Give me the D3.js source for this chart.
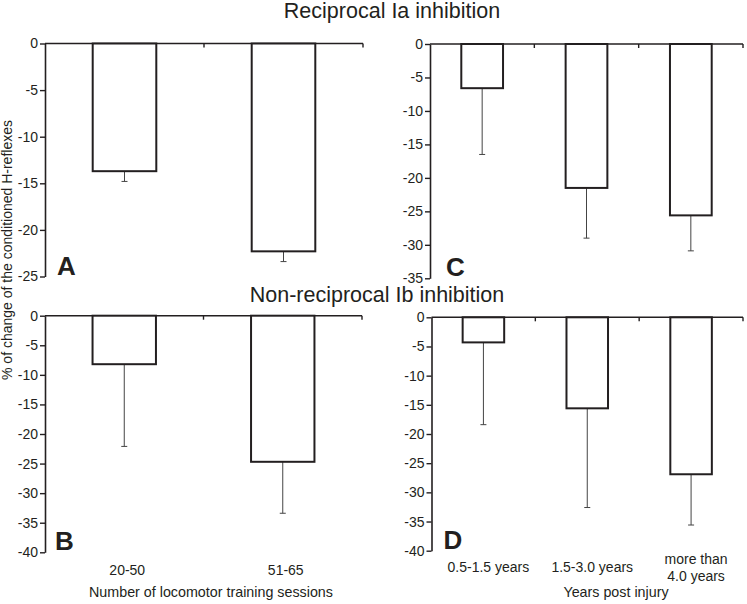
<!DOCTYPE html>
<html><head><meta charset="utf-8">
<script src="https://cdn.jsdelivr.net/npm/d3@7"></script>
<style>body{margin:0;background:#fff}svg{display:block}text{font-family:"Liberation Sans",Arial,sans-serif;fill:#231f20}</style>
</head><body>
<svg id="c" width="747" height="604"></svg>
<script>
// ---- data ----
const sessionCats = ["20-50", "51-65"];
const yearCats = ["0.5-1.5 years", "1.5-3.0 years", "more than|4.0 years"];
const recipSessions = [-13.7, -22.3];
const recipSessionsErr = [1.1, 1.1];
const recipYears = [-6.6, -21.5, -25.6];
const recipYearsErr = [9.9, 7.5, 5.3];
const nonrecipSessions = [-8.2, -24.7];
const nonrecipSessionsErr = [13.9, 8.7];
const nonrecipYears = [-4.3, -15.6, -26.9];
const nonrecipYearsErr = [14.1, 17.0, 8.7];
const ticksA = [0, -5, -10, -15, -20, -25];
const ticksC = [0, -5, -10, -15, -20, -25, -30, -35];
const ticksBD = [0, -5, -10, -15, -20, -25, -30, -35, -40];
const titles = ["Reciprocal Ia inhibition", "Non-reciprocal Ib inhibition"];
const yLabel = "% of change of the conditioned H-reflexes";
const xLabels = ["Number of locomotor training sessions", "Years post injury"];

const svg = d3.select("#c");
const ink = "#231f20";

function panel(o) {
  const y = d3.scaleLinear().domain([0, o.ymin]).range([o.y0, o.y1]);
  const x = d3.scaleBand().domain(o.cats).range([o.x0, o.x1]).paddingInner(0).paddingOuter(0);
  const g = svg.append("g");
  // y axis
  const ax = g.append("g").attr("transform", `translate(${o.x0},0)`)
    .call(d3.axisLeft(y).tickValues(o.ticks).tickSize(5).tickSizeOuter(0).tickPadding(2).tickFormat(d => String(d)));
  ax.select(".domain").attr("stroke", ink).attr("stroke-width", 1.6);
  ax.selectAll(".tick line").attr("stroke", ink).attr("stroke-width", 1.4);
  ax.selectAll(".tick text").attr("font-size", 14).attr("fill", ink)
    .style("font-family", '"Liberation Sans",Arial,sans-serif');
  // x axis line at 0
  g.append("line").attr("x1", o.x0).attr("x2", o.x1).attr("y1", y(0)).attr("y2", y(0))
    .attr("stroke", ink).attr("stroke-width", 1.6);
  g.selectAll(".xt").data(o.cats).join("line")
    .attr("x1", d => x(d) + x.bandwidth()).attr("x2", d => x(d) + x.bandwidth())
    .attr("y1", y(0)).attr("y2", y(0) + 4).attr("stroke", ink).attr("stroke-width", 1.4);
  const bw = x.bandwidth() * 0.4;
  const data = o.cats.map((c, i) => ({c, v: o.vals[i], e: o.errs[i]}));
  // error bars
  g.selectAll(".eb").data(data).join("line")
    .attr("x1", d => x(d.c) + x.bandwidth() / 2).attr("x2", d => x(d.c) + x.bandwidth() / 2)
    .attr("y1", d => y(d.v)).attr("y2", d => y(d.v - d.e))
    .attr("stroke", "#444").attr("stroke-width", 1);
  g.selectAll(".ec").data(data).join("line")
    .attr("x1", d => x(d.c) + x.bandwidth() / 2 - 3).attr("x2", d => x(d.c) + x.bandwidth() / 2 + 3)
    .attr("y1", d => y(d.v - d.e)).attr("y2", d => y(d.v - d.e))
    .attr("stroke", "#444").attr("stroke-width", 1);
  // bars
  g.selectAll(".bar").data(data).join("rect")
    .attr("x", d => x(d.c) + (x.bandwidth() - bw) / 2).attr("width", bw)
    .attr("y", y(0)).attr("height", d => y(d.v) - y(0))
    .attr("fill", "#fff").attr("stroke", ink).attr("stroke-width", 2);
  // panel letter
  g.append("text").attr("x", o.x0 + o.lx).attr("y", y(o.ymin) - 2)
    .attr("font-size", 26).attr("font-weight", "bold").text(o.letter);
  if (o.showCats) {
    const t = g.selectAll(".cl").data(o.cats).join("text")
      .attr("text-anchor", "middle").attr("font-size", 14)
      .attr("transform", d => `translate(${x(d) + x.bandwidth() / 2 + o.cdx},${o.catY})`);
    t.each(function(d) {
      const parts = d.split("|");
      const s = d3.select(this);
      parts.forEach((p, i) => {
        s.append("tspan").attr("x", 0)
          .attr("y", (i - (parts.length - 1) / 2) * 17).text(p);
      });
    });
  }
  return {x, y};
}

panel({cats: sessionCats, vals: recipSessions, errs: recipSessionsErr, ticks: ticksA, ymin: -25,
  x0: 45, x1: 363, y0: 43.5, y1: 276.5, letter: "A", lx: 12, showCats: false});
panel({cats: yearCats, vals: recipYears, errs: recipYearsErr, ticks: ticksC, ymin: -35,
  x0: 430, x1: 743, y0: 44, y1: 278.3, letter: "C", lx: 16, showCats: false});
panel({cats: sessionCats, vals: nonrecipSessions, errs: nonrecipSessionsErr, ticks: ticksBD, ymin: -40,
  x0: 45, x1: 362, y0: 315.7, y1: 552.3, letter: "B", lx: 10, showCats: true, catY: 575, cdx: 3});
panel({cats: yearCats, vals: nonrecipYears, errs: nonrecipYearsErr, ticks: ticksBD, ymin: -40,
  x0: 431.5, x1: 743, y0: 317.3, y1: 550.7, letter: "D", lx: 12, showCats: true, catY: 572, cdx: 5});

svg.append("text").attr("x", 392).attr("y", 18).attr("text-anchor", "middle").attr("font-size", 21.5).text(titles[0]);
svg.append("text").attr("x", 377).attr("y", 302).attr("text-anchor", "middle").attr("font-size", 21.5).text(titles[1]);
svg.append("text").attr("transform", "translate(12,250) rotate(-90)").attr("text-anchor", "middle")
  .attr("font-size", 14).text(yLabel);
svg.append("text").attr("x", 211).attr("y", 597).attr("text-anchor", "middle").attr("font-size", 14.3).text(xLabels[0]);
svg.append("text").attr("x", 616).attr("y", 597).attr("text-anchor", "middle").attr("font-size", 14.3).text(xLabels[1]);
</script>
</body></html>
